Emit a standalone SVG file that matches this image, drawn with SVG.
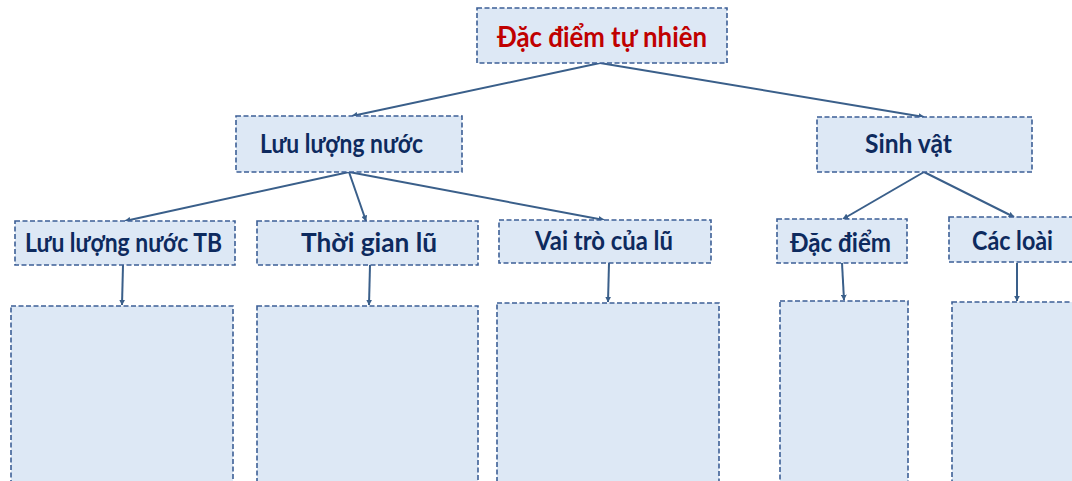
<svg xmlns="http://www.w3.org/2000/svg" width="1072" height="481" viewBox="0 0 1072 481">
<defs>
<marker id="ah" viewBox="0 0 10 10" refX="9" refY="5" markerWidth="6" markerHeight="6" orient="auto" markerUnits="userSpaceOnUse">
<path d="M0,0 L10,5 L0,10 z" fill="#3a5f8a"/>
</marker>
<style>
.box{fill:#dde8f5;stroke:#3d5f96;stroke-width:1.6;stroke-dasharray:5 2.5}
.t{font-family:Lato,"Open Sans","Liberation Sans",sans-serif;font-weight:bold;font-size:26px;fill:#0d2a5e}
.red{fill:#c00000;font-size:29px}
.c{stroke:#3a5f8a;stroke-width:2;fill:none;marker-end:url(#ah)}
</style>
</defs>
<rect width="1072" height="481" fill="#ffffff"/>
<g id="connectors">
<line class="c" x1="600" y1="63" x2="352" y2="116"/>
<line class="c" x1="600" y1="63" x2="924" y2="117"/>
<line class="c" x1="349" y1="172" x2="125" y2="221"/>
<line class="c" x1="349" y1="172" x2="366" y2="221"/>
<line class="c" x1="349" y1="172" x2="604" y2="220"/>
<line class="c" x1="924" y1="172" x2="843" y2="219"/>
<line class="c" x1="924" y1="172" x2="1014" y2="217"/>
<line class="c" x1="123" y1="265" x2="122" y2="305"/>
<line class="c" x1="370" y1="265" x2="369" y2="305"/>
<line class="c" x1="609" y1="263" x2="608" y2="302"/>
<line class="c" x1="842" y1="263" x2="844" y2="300"/>
<line class="c" x1="1017" y1="263" x2="1017" y2="301"/>
</g>
<g id="n-root"><rect class="box" x="477" y="8" width="250" height="55"/><text class="t red" x="497" y="47" textLength="210" lengthAdjust="spacingAndGlyphs">Đặc điểm tự nhiên</text></g>
<g id="n-luuluong"><rect class="box" x="236" y="116" width="226" height="56"/><text class="t" x="260" y="153" textLength="163" lengthAdjust="spacingAndGlyphs">Lưu lượng nước</text></g>
<g id="n-sinhvat"><rect class="box" x="817" y="117" width="215" height="55"/><text class="t" x="865" y="153" textLength="87" lengthAdjust="spacingAndGlyphs">Sinh vật</text></g>
<g id="n-tb"><rect class="box" x="15" y="221" width="220" height="44"/><text class="t" x="25" y="252" textLength="197" lengthAdjust="spacingAndGlyphs">Lưu lượng nước TB</text></g>
<g id="n-thoigian"><rect class="box" x="257" y="221" width="221" height="44"/><text class="t" x="301" y="252" textLength="136" lengthAdjust="spacingAndGlyphs">Thời gian lũ</text></g>
<g id="n-vaitro"><rect class="box" x="499" y="220" width="212" height="43"/><text class="t" x="535" y="250" textLength="138" lengthAdjust="spacingAndGlyphs">Vai trò của lũ</text></g>
<g id="n-dacdiem"><rect class="box" x="777" y="219" width="130" height="44"/><text class="t" x="790" y="252" textLength="101" lengthAdjust="spacingAndGlyphs">Đặc điểm</text></g>
<g id="n-cacloai"><rect class="box" x="949" y="217" width="130" height="45"/><text class="t" x="972" y="250" textLength="81" lengthAdjust="spacingAndGlyphs">Các loài</text></g>
<g id="n-b1"><rect class="box" x="11" y="306" width="222" height="190"/></g>
<g id="n-b2"><rect class="box" x="257" y="306" width="221" height="190"/></g>
<g id="n-b3"><rect class="box" x="497" y="303" width="222" height="190"/></g>
<g id="n-b4"><rect class="box" x="780" y="301" width="128" height="190"/></g>
<g id="n-b5"><rect class="box" x="952" y="302" width="130" height="190"/></g>
</svg>
